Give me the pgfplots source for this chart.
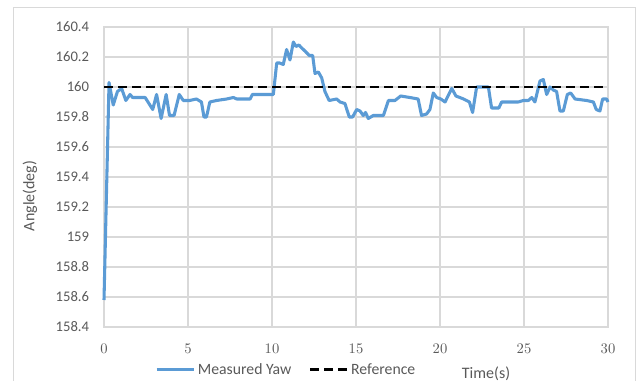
\documentclass[border=0pt]{standalone}
\usepackage{pgfplots}
\pgfplotsset{compat=1.18}
\usepackage{fontspec}
\setmainfont{Carlito}
\definecolor{gridc}{HTML}{D9D9D9}
\definecolor{txt}{HTML}{595959}
\definecolor{yawblue}{HTML}{5B9BD5}
\pgfplotstableread{
t v
0 158.58
0.3 160.03
0.55 159.88
0.8 159.97
1.05 159.99
1.3 159.91
1.55 159.95
1.7 159.93
2.45 159.93
2.9 159.85
3.13 159.95
3.4 159.79
3.7 159.95
3.9 159.81
4.17 159.81
4.48 159.95
4.72 159.91
5.1 159.91
5.5 159.92
5.8 159.90
5.95 159.80
6.1 159.80
6.3 159.90
6.7 159.91
7.3 159.92
7.7 159.93
7.9 159.92
8.7 159.92
8.83 159.95
10.08 159.95
10.28 160.16
10.45 160.16
10.67 160.15
10.87 160.25
11.07 160.18
11.27 160.30
11.43 160.27
11.6 160.28
11.77 160.26
11.96 160.24
12.22 160.21
12.42 160.21
12.56 160.09
12.76 160.10
12.96 160.06
13.15 159.97
13.4 159.91
13.85 159.92
14.05 159.90
14.34 159.89
14.6 159.80
14.8 159.80
15.04 159.85
15.24 159.84
15.43 159.81
15.57 159.83
15.73 159.79
16.03 159.81
16.63 159.81
16.93 159.91
17.32 159.91
17.66 159.94
18.2 159.93
18.7 159.92
18.9 159.81
19.2 159.82
19.4 159.85
19.6 159.96
19.8 159.93
20.05 159.92
20.3 159.90
20.7 159.99
20.95 159.94
21.4 159.92
21.75 159.90
21.94 159.83
22.18 160.00
22.88 160.00
23.07 159.86
23.5 159.86
23.67 159.90
24.66 159.90
24.96 159.91
25.26 159.91
25.46 159.93
25.65 159.90
25.95 160.04
26.15 160.05
26.35 159.95
26.55 160.00
26.74 159.98
26.94 159.97
27.14 159.84
27.34 159.84
27.58 159.95
27.78 159.96
28.04 159.92
28.73 159.91
29.13 159.90
29.3 159.85
29.52 159.84
29.68 159.92
29.92 159.92
30 159.90
}\yawdata
\pgfplotstableread{
t v
0 160
30 160
}\refdata
\begin{document}
\begin{tikzpicture}[x=0.75pt,y=0.75pt]
\useasboundingbox (0,0) rectangle (642,381);
\draw[gridc] (13,-10) -- (13,374) -- (635,374) -- (635,-10);
\begin{axis}[
  at={(78pt,40.5pt)}, anchor=south west,
  scale only axis, width=378pt, height=225pt,
  xmin=0, xmax=30, ymin=158.4, ymax=160.4,
  xtick={0,5,10,15,20,25,30},
  ytick={158.4,158.6,158.8,159,159.2,159.4,159.6,159.8,160,160.2,160.4},
  yticklabels={158.4,158.6,158.8,159,159.2,159.4,159.6,159.8,160,160.2,160.4},
  grid=major, major grid style={gridc, line width=0.9pt},
  axis line style={gridc, line width=0.9pt},
  major tick length=0pt,
  ticklabel style={font=\fontsize{11}{13}\selectfont, text=txt},
  yticklabel style={inner sep=0pt, anchor=east, xshift=-11pt},
  xticklabel style={inner sep=0pt, anchor=north, yshift=-12.5pt},
  xlabel={Time(s)}, ylabel={Angle(deg)},
  xlabel style={at={(axis description cs:0.758,-0.155)}, anchor=center, font=\fontsize{12}{14}\selectfont, text=txt},
  ylabel style={at={(axis description cs:-0.147,0.437)}, anchor=center, font=\fontsize{12}{14}\selectfont, text=txt},
  legend style={at={(axis description cs:0.101,-0.143)}, anchor=west, draw=none, fill=none,
    inner sep=0pt, font=\fontsize{11.8}{14}\selectfont, text=txt,
    /tikz/every even column/.append style={column sep=11pt}},
  legend columns=2,
  legend image code/.code={\draw[#1] (0pt,0pt) -- (27.75pt,0pt);},
  clip=false,
]
\addplot[yawblue, line width=2.3pt, line join=round] table[x=t,y=v]{\yawdata};
\addlegendentry{Measured Yaw}
\addplot[black, line width=2.1pt, dash pattern=on 6.5pt off 4pt] table[x=t,y=v]{\refdata};
\addlegendentry{Reference}
\end{axis}
\end{tikzpicture}
\end{document}
